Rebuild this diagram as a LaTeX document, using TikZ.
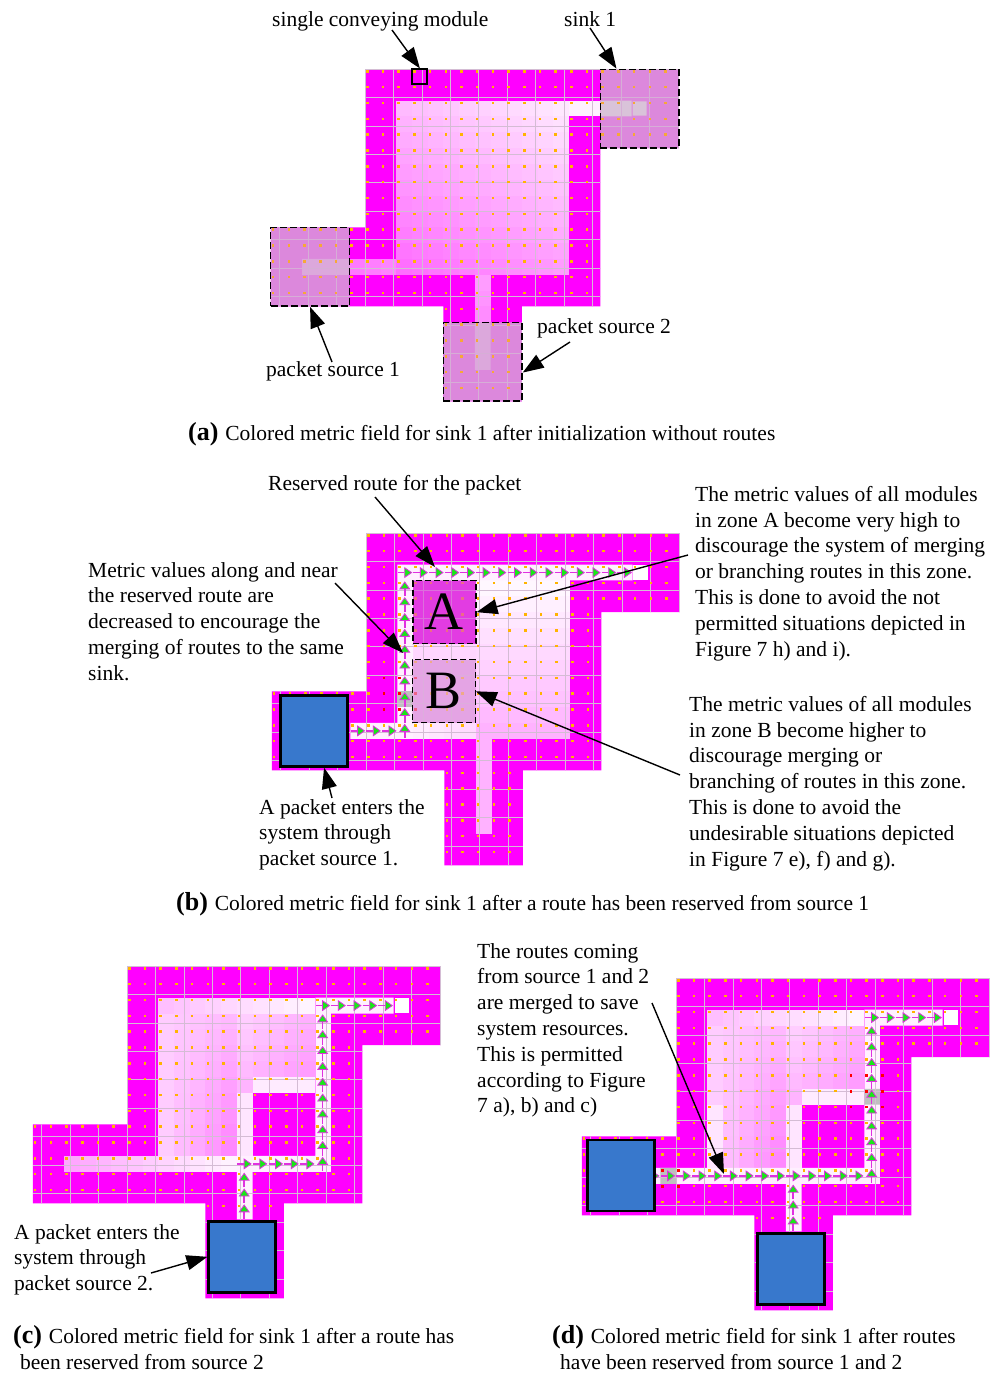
\documentclass[tikz,border=0pt]{standalone}
\usepackage{fontspec}
\setmainfont{Liberation Serif}
\usetikzlibrary{arrows.meta,calc}

\definecolor{plantmagenta}{HTML}{FF00FF}
\definecolor{gridpink}{HTML}{D4BCD4}
\definecolor{dotorange}{HTML}{FFB400}
\definecolor{routepink}{HTML}{E030E0}
\definecolor{routegreen}{HTML}{18E818}
\definecolor{palecell}{HTML}{FFF0FF}
\definecolor{sourcetint}{HTML}{DC88DC}
\definecolor{sourcelight}{HTML}{DCB4DC}
\definecolor{sinklight}{HTML}{D8D8D8}
\definecolor{zoneA}{HTML}{E23CE2}
\definecolor{zoneB}{HTML}{E4A4E4}
\definecolor{packetblue}{HTML}{3878CC}

\newcommand{\labelfont}{\fontsize{21.5}{25.8}\selectfont}
\newcommand{\capmark}[1]{{\fontsize{26}{26}\selectfont\bfseries (#1)}\hspace{1.5pt}}

\tikzset{
  labeltext/.style={inner sep=0pt,anchor=base west,font=\labelfont},
  labelblock/.style={align=left,inner sep=0pt,anchor=north west,font=\labelfont},
  callout/.style={line width=1.4pt,-{Triangle[length=21pt,width=15pt]}},
  routearrow/.style={draw=routepink,line width=1.5pt,-{Triangle[length=8pt,width=11pt,line width=.8pt,fill=routegreen]}},
  sourcebox/.style={draw,dash pattern=on 7pt off 3pt,line width=1.4pt,fill=sourcetint,fill opacity=.25,minimum size=78.6pt,inner sep=0pt},
  zonebox/.style={draw,dash pattern=on 6pt off 3pt,line width=1.2pt,fill opacity=.6,text opacity=1,minimum size=63pt,inner sep=0pt,font=\fontsize{54}{54}\selectfont},
  packetbox/.style={draw,line width=2.5pt,fill=packetblue,minimum width=67pt,minimum height=71pt,inner sep=0pt},
  cellgrid/.style={x=15.69pt,y=-15.83pt}
}

% plant outline in cell units
\newcommand{\plantpath}{(0,0) -- (20,0) -- (20,5) -- (15,5) -- (15,15) -- (10,15) -- (10,21) -- (5,21) -- (5,15) -- (-6,15) -- (-6,10) -- (0,10) -- cycle}
\newcommand{\metricblock}[5]{%
  \foreach \ry in {#3,...,#4}{\foreach \cx in {#1,...,#2}{%
    \pgfmathsetmacro{\shade}{max(0,min(100,#5))}%
    \fill[white!\shade!plantmagenta] (\cx,\ry) rectangle ++(1,1);}}}
\newcommand{\plantgrid}{%
  \begin{scope}
    \clip \plantpath;
    \draw[gridpink,line width=.8pt] (-6,0) grid (20,21);
    \foreach \ry in {0,...,20}{\foreach \cx in {-6,...,19}{%
      \fill[dotorange] (\cx+.07,\ry+.07) rectangle ++(.16,.16);}}
  \end{scope}}
\newcommand{\routeright}[3]{\foreach \cx in {#1,...,#2}{\draw[routearrow] (\cx+.02,#3+.5) -- (\cx+.95,#3+.5);}}
\newcommand{\routeup}[3]{\foreach \ry in {#2,...,#3}{\draw[routearrow] (#1+.47,\ry+.98) -- (#1+.47,\ry+.05);}}
\newcommand{\reddots}[2]{\foreach \ry in {#2}{\foreach \cx in {#1}{\fill[red] (\cx+.07,\ry+.07) rectangle ++(.17,.17);}}}

\begin{document}
\begin{tikzpicture}[x=1pt,y=-1pt]
  \useasboundingbox (0,0) rectangle (998,1374);

  % (a) after initialization
  \begin{scope}[shift={(365,69)},cellgrid]
    \fill[plantmagenta] \plantpath;
    \metricblock{2}{12}{2}{12}{100-1.8*abs(\cx-17)-3*abs(\ry-2)}
    \metricblock{13}{14}{2}{2}{94}
    \metricblock{-1}{1}{12}{12}{100-1.8*abs(\cx-17)-3*abs(\ry-2)+10}
    \metricblock{7}{7}{13}{15}{100-1.8*abs(\cx-17)-3*abs(\ry-2)+12}
    \fill[sourcetint] (15,0) rectangle (20,5) (-6,10) rectangle (-1,15) (5,16) rectangle (10,21);
    \fill[sinklight] (15,2) rectangle (17,3) (17.05,2.05) rectangle (17.95,2.95);
    \fill[sourcelight] (-4,12) rectangle (-1,13) (7,16) rectangle (8,19);
    \plantgrid
    \node[sourcebox] (sinka) at (17.5,2.5) {};
    \node[sourcebox] (srcaone) at (-3.5,12.5) {};
    \node[sourcebox] (srcatwo) at (7.5,18.5) {};
    \node[draw,line width=2pt,minimum size=15pt,inner sep=0pt] (module) at (3.5,.5) {};
  \end{scope}
  \node[labeltext] (lblmodule) at (272,26) {single conveying module};
  \node[labeltext] (lblsink) at (564,26) {sink 1};
  \node[labeltext] (lblsrcone) at (266,376) {packet source 1};
  \node[labeltext] (lblsrctwo) at (537,333) {packet source 2};
  \node[labeltext] (capa) at (188,440) {\capmark{a} Colored metric field for sink 1 after initialization without routes};
  \coordinate (frommodule) at (392,30);
  \coordinate (fromsink) at (590,28);
  \coordinate (fromsrcone) at (332,362);
  \coordinate (fromsrctwo) at (570,342);
  \draw[callout] (frommodule) -- (module.north);
  \draw[callout] (fromsink) -- (sinka.120);
  \draw[callout] (fromsrcone) -- (srcaone.south);
  \draw[callout] (fromsrctwo) -- (srcatwo.-15);

  % (b) route from source 1
  \begin{scope}[shift={(366,533)},cellgrid]
    \fill[plantmagenta] \plantpath;
    \metricblock{3}{12}{3}{12}{97-3*(\ry-3)}
    \metricblock{3}{6}{7}{7}{84}
    \metricblock{3}{6}{12}{12}{92-2*(\cx-3)}
    \metricblock{7}{7}{13}{18}{70}
    \fill[zoneA] (3,3) rectangle (7,7);
    \fill[zoneB] (3,8) rectangle (7,12);
    \fill[palecell] (2,2) rectangle (17,3) (2,3) rectangle (3,13) (-1,12) rectangle (2,13);
    \fill[white] (17,2) rectangle (18,3);
    \fill[gray!50] (2,10) rectangle (3,11);
    \plantgrid
    \reddots{1,2,3}{9,10,11}
    \routeright{2}{16}{2}
    \routeup{2}{3}{12}
    \routeright{-1}{1}{12}
    \node[zonebox,fill=zoneA] (zonea) at (5,5) {A};
    \node[zonebox,fill=zoneB] (zoneb) at (4.95,10) {B};
    \node[packetbox] (packetb) at (-3.3,12.5) {};
  \end{scope}
  \node[labeltext] (lblreserved) at (268,490) {Reserved route for the packet};
  \node[labelblock] (lblvalues) at (88,562) {Metric values along and near\\the reserved route are\\decreased to encourage the\\merging of routes to the same\\sink.};
  \node[labelblock] (lblzonea) at (695,486) {The metric values of all modules\\in zone A become very high to\\discourage the system of merging\\or branching routes in this zone.\\This is done to avoid the not\\permitted situations depicted in\\Figure 7 h) and i).};
  \node[labelblock] (lblzoneb) at (689,696) {The metric values of all modules\\in zone B become higher to\\discourage merging or\\branching of routes in this zone.\\This is done to avoid the\\undesirable situations depicted\\in Figure 7 e), f) and g).};
  \node[labelblock] (lblentersb) at (259,799) {A packet enters the\\system through\\packet source 1.};
  \node[labeltext] (capb) at (176,910) {\capmark{b} Colored metric field for sink 1 after a route has been reserved from source 1};
  \coordinate (fromreserved) at (375,497);
  \coordinate (tipreserved) at (435,567);
  \coordinate (fromvalues) at (335,583);
  \coordinate (tipvalues) at (403,653);
  \coordinate (fromzonea) at (688,555);
  \coordinate (fromzoneb) at (680,775);
  \coordinate (fromentersb) at (332,798);
  \draw[callout] (fromreserved) -- (tipreserved);
  \draw[callout] (fromvalues) -- (tipvalues);
  \draw[callout] (fromzonea) -- (zonea.east);
  \draw[callout] (fromzoneb) -- (zoneb.east);
  \draw[callout] (fromentersb) -- (packetb.-75);

  % (c) route from source 2
  \begin{scope}[shift={(127,966)},cellgrid]
    \fill[plantmagenta] \plantpath;
    \metricblock{2}{6}{3}{11}{80-(\cx-2)*(2+.6*(\ry-3))}
    \metricblock{7}{11}{3}{7}{82-3*(\cx-6.5)-2.5*(\ry-3)}
    \metricblock{2}{11}{2}{2}{75+2.3*(\cx-2)}
    \metricblock{-4}{6}{12}{12}{65+3*(\cx+4)}
    \metricblock{7}{7}{8}{11}{90}
    \metricblock{8}{11}{7}{7}{92}
    \fill[palecell] (12,2) rectangle (17,3) (12,3) rectangle (13,13) (7,12) rectangle (12,13) (7,13) rectangle (8,16);
    \fill[white] (17.05,2.05) rectangle (17.95,2.95);
    \plantgrid
    \routeright{12}{16}{2}
    \routeup{12}{3}{12}
    \routeright{7}{11}{12}
    \routeup{7}{13}{15}
    \node[packetbox] (packetc) at (7.34,18.37) {};
  \end{scope}
  \node[labelblock] (lblentersc) at (14,1224) {A packet enters the\\system through\\packet source 2.};
  \node[labeltext] (capc) at (13,1343) {\capmark{c} Colored metric field for sink 1 after a route has};
  \node[labeltext] (capcb) at (20,1369) {been reserved from source 2};
  \coordinate (fromentersc) at (151,1273);
  \draw[callout] (fromentersc) -- (packetc.west);

  % (d) both routes
  \begin{scope}[shift={(676,978)},cellgrid]
    \fill[plantmagenta] \plantpath;
    \metricblock{2}{6}{3}{11}{80-(\cx-2)*(2+.6*(\ry-3))}
    \metricblock{7}{11}{3}{7}{82-3*(\cx-6.5)-2.5*(\ry-3)}
    \metricblock{2}{2}{8}{11}{90}
    \metricblock{2}{11}{2}{2}{75+2.3*(\cx-2)}
    \metricblock{7}{7}{8}{11}{90}
    \metricblock{8}{11}{7}{7}{92}
    \fill[palecell] (12,2) rectangle (17,3) (12,3) rectangle (13,13) (-2,12) rectangle (12,13) (7,13) rectangle (8,16);
    \fill[white] (17.05,2.05) rectangle (17.95,2.95);
    \fill[gray!50] (-1,12) rectangle (0,13) (12,7) rectangle (13,8);
    \plantgrid
    \reddots{11,12,13}{6,7,8}
    \reddots{-1,0}{12,13}
    \routeright{12}{16}{2}
    \routeup{12}{3}{12}
    \routeright{-2}{11}{12}
    \routeup{7}{13}{15}
    \node[packetbox] (packetdl) at (-3.5,12.47) {};
    \node[packetbox] (packetdb) at (7.34,18.37) {};
  \end{scope}
  \node[labelblock] (lblmerged) at (477,943) {The routes coming\\from source 1 and 2\\are merged to save\\system resources.\\This is permitted\\according to Figure\\7 a), b) and c)};
  \node[labeltext] (capd) at (552,1343) {\capmark{d} Colored metric field for sink 1 after routes};
  \node[labeltext] (capdb) at (560,1369) {have been reserved from source 1 and 2};
  \coordinate (frommerged) at (652,1003);
  \coordinate (tipmerged) at (724,1174);
  \draw[callout] (frommerged) -- (tipmerged);
\end{tikzpicture}
\end{document}
